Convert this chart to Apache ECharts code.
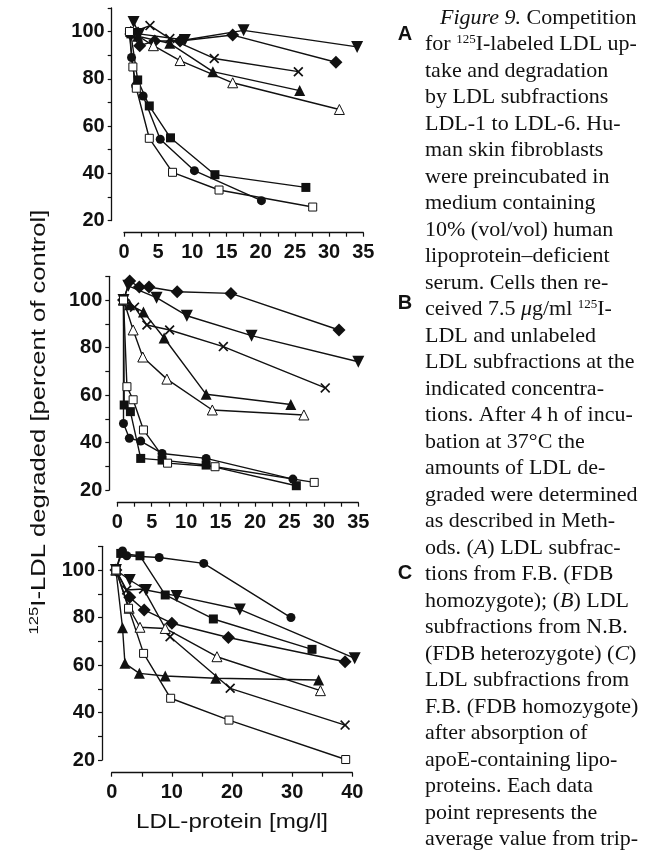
<!DOCTYPE html>
<html>
<head>
<meta charset="utf-8">
<script src="https://cdn.jsdelivr.net/npm/echarts@6/dist/echarts.min.js"></script>
<style>
html, body { margin: 0; padding: 0; background: #fff; }
#main { width: 661px; height: 851px; }
</style>
</head>
<body>
<div id="main"></div>
<script>
// ---- data: [LDL-protein mg/l, % of control] ----
// panel A
var aDown     = [[1.4,104],[2.2,99],[8.9,96.4],[17.5,100.5],[34.1,93.5]];
var aDiamond  = [[1,99],[2.3,94],[4.5,96],[8.2,96],[15.9,98.5],[31,87]];
var aCross    = [[1.5,100],[3.8,102.5],[6.7,97],[13.2,88.6],[25.5,83]];
var aTri      = [[1,100],[2,98],[6.7,95],[13,83],[25.7,75]];
var aTriOpen  = [[1,100],[4.3,94],[8.2,87.7],[15.9,78.3],[31.5,67]];
var aSquare   = [[1,99],[2,79.5],[3.7,68.5],[6.8,55],[13.3,39.4],[26.6,34]];
var aCircle   = [[0.8,100],[1.1,89],[1.7,77],[2.8,72.7],[5.3,54.4],[10.3,41.1],[20.1,28.4]];
var aSqOpen   = [[0.8,100],[1.3,85],[1.8,76],[3.7,54.8],[7.1,40.4],[13.9,32.9],[27.6,25.7]];
// panel B
var bDown     = [[0.9,100],[1.6,106],[5.7,101],[10.1,93.4],[19.5,85],[35,74]];
var bDiamond  = [[0.9,100],[1.8,108],[3.2,105.5],[4.6,105.5],[8.7,103.5],[16.5,102.8],[32.2,87.4]];
var bCross    = [[0.9,100],[2.5,97],[4.3,89.5],[7.6,87.4],[15.4,80.4],[30.2,63]];
var bTri      = [[0.9,100],[1.8,98],[3.8,95],[6.8,84],[12.9,60.3],[25.2,56]];
var bTriOpen  = [[0.9,100],[2.3,87.4],[3.7,76],[7.2,66.7],[13.8,53.7],[27.1,51.6]];
var bSquare   = [[0.9,100],[1,55.8],[1.9,53],[3.4,33.3],[6.5,32.6],[12.9,30.5],[26,21.8]];
var bCircle   = [[0.9,100],[0.9,48],[1.75,41.8],[3.4,40.6],[6.5,35.4],[12.9,33.3],[25.5,24.6]];
var bSqOpen   = [[0.9,100],[1.4,63.5],[2.3,58],[3.8,45.3],[7.3,31.3],[14.2,29.8],[28.6,23.2]];
// panel C
var cDown     = [[0.7,100],[3,95.8],[5.7,91.6],[10.8,89.1],[21.3,83.4],[40.4,62.8]];
var cDiamond  = [[0.7,100],[3,88.5],[5.4,83.2],[10,77.6],[19.4,71.6],[38.8,61.4]];
var cCross    = [[0.7,100],[2.5,91.6],[5.3,92],[9.7,71.9],[19.7,50.2],[38.8,34.7]];
var cTri      = [[0.7,100],[1.8,75.7],[2.2,60.7],[4.6,56.5],[8.9,55.4],[17.3,54.4],[34.4,53.7]];
var cTriOpen  = [[0.7,100],[2.9,83.9],[4.7,75.9],[8.9,75.4],[17.5,63.5],[34.7,49.2]];
var cSquare   = [[0.7,100],[1.5,107],[4.7,106],[8.9,89.5],[16.9,79.4],[33.3,66.6]];
var cCircle   = [[0.7,100],[1.8,108],[2.5,106],[7.9,105.3],[15.3,102.8],[29.8,80]];
var cSqOpen   = [[0.7,100],[2.8,83.9],[5.3,64.9],[9.8,46],[19.5,36.8],[38.9,20.2]];

var xMaxes = [35, 35, 40];
var xSteps = [5, 5, 10];
var yTicks = [20, 40, 60, 80, 100];
var panelLetters = ['A', 'B', 'C'];

var captionLines = [
  '{it|Figure 9.} Competition',
  'for {sup|125}I-labeled LDL up-',
  'take and degradation',
  'by LDL subfractions',
  'LDL-1 to LDL-6. Hu-',
  'man skin fibroblasts',
  'were preincubated in',
  'medium containing',
  '10% (vol/vol) human',
  'lipoprotein\u2013deficient',
  'serum. Cells then re-',
  'ceived 7.5 {it|\u03bc}g/ml {sup|125}I-',
  'LDL and unlabeled',
  'LDL subfractions at the',
  'indicated concentra-',
  'tions. After 4 h of incu-',
  'bation at 37\u00b0C the',
  'amounts of LDL de-',
  'graded were determined',
  'as described in Meth-',
  'ods. ({it|A}) LDL subfrac-',
  'tions from F.B. (FDB',
  'homozygote); ({it|B}) LDL',
  'subfractions from N.B.',
  '(FDB heterozygote) ({it|C})',
  'LDL subfractions from',
  'F.B. (FDB homozygote)',
  'after absorption of',
  'apoE-containing lipo-',
  'proteins. Each data',
  'point represents the',
  'average value from trip-'
];

// ---- styling ----
var INK = '#111';
var crossPath = 'path://M0,1.2L1.2,0L5,3.8L8.8,0L10,1.2L6.2,5L10,8.8L8.8,10L5,6.2L1.2,10L0,8.8L3.8,5Z';
var markers = {
  down:    { symbol: 'triangle', symbolSize: 12, symbolRotate: 180 },
  diamond: { symbol: 'diamond', symbolSize: 13 },
  cross:   { symbol: crossPath, symbolSize: 10 },
  tri:     { symbol: 'triangle', symbolSize: 11 },
  triOpen: { symbol: 'triangle', symbolSize: 10, open: true },
  square:  { symbol: 'rect', symbolSize: 9 },
  circle:  { symbol: 'circle', symbolSize: 9 },
  sqOpen:  { symbol: 'rect', symbolSize: 8, open: true }
};
var panels = [
  { down: aDown, diamond: aDiamond, cross: aCross, tri: aTri, triOpen: aTriOpen, square: aSquare, circle: aCircle, sqOpen: aSqOpen },
  { down: bDown, diamond: bDiamond, cross: bCross, tri: bTri, triOpen: bTriOpen, square: bSquare, circle: bCircle, sqOpen: bSqOpen },
  { down: cDown, diamond: cDiamond, cross: cCross, tri: cTri, triOpen: cTriOpen, square: cSquare, circle: cCircle, sqOpen: cSqOpen }
];
var gridBox = [
  { left: 124,   right: 297.7, top: 7.9,   height: 212.6, yOff: 12.3, xOff: 12.2 },
  { left: 117.3, right: 302.7, top: 276.3, height: 213.7, yOff: 8,    xOff: 12.7 },
  { left: 111.7, right: 308.7, top: 546.3, height: 213.7, yOff: 9.7,  xOff: 12.7 }
];

var tickFont = { fontFamily: 'Liberation Sans', fontWeight: 'bold', fontSize: 20, color: INK };

var grids = [], xAxes = [], yAxes = [], series = [], graphics = [];
gridBox.forEach(function (g, i) {
  grids.push({ left: g.left, right: g.right, top: g.top, height: g.height });
  xAxes.push({
    type: 'value', gridIndex: i, min: 0, max: xMaxes[i], interval: xSteps[i], offset: g.xOff,
    axisLine: { show: true, onZero: false, lineStyle: { color: INK, width: 1.3 } },
    axisTick: { show: true, length: 4, lineStyle: { color: INK, width: 1.2 } },
    minorTick: { show: true, splitNumber: 2, length: 4, lineStyle: { color: INK, width: 1.2 } },
    splitLine: { show: false },
    axisLabel: Object.assign({ margin: 10 }, tickFont)
  });
  yAxes.push({
    type: 'value', gridIndex: i, min: yTicks[0], max: 110, interval: 20, offset: g.yOff,
    axisLine: { show: true, onZero: false, lineStyle: { color: INK, width: 1.3 } },
    axisTick: { show: true, length: 4, lineStyle: { color: INK, width: 1.2 } },
    minorTick: { show: true, splitNumber: 2, length: 4, lineStyle: { color: INK, width: 1.2 } },
    splitLine: { show: false },
    axisLabel: Object.assign({ margin: 7, showMaxLabel: false }, tickFont)
  });
  Object.keys(markers).forEach(function (k) {
    var m = markers[k];
    series.push({
      type: 'line', xAxisIndex: i, yAxisIndex: i, clip: false,
      data: panels[i][k],
      symbol: m.symbol, symbolSize: m.symbolSize, symbolRotate: m.symbolRotate || 0,
      showSymbol: true, showAllSymbol: true,
      lineStyle: { color: INK, width: 1.4 },
      itemStyle: m.open
        ? { color: '#fff', borderColor: INK, borderWidth: 1 }
        : { color: INK, borderWidth: 0 },
      emphasis: { disabled: true }
    });
  });
  graphics.push({
    type: 'text', x: 405, y: g.top + 27, z: 10,
    style: { text: panelLetters[i], fontFamily: 'Liberation Sans', fontWeight: 'bold', fontSize: 20,
             fill: INK, align: 'center', verticalAlign: 'middle' }
  });
});

// axis titles
graphics.push({
  type: 'text', x: 232, y: 822, scaleX: 1.15,
  style: { text: 'LDL-protein [mg/l]', fontFamily: 'Liberation Sans', fontSize: 21, fill: INK,
           align: 'center', verticalAlign: 'middle' }
});
graphics.push({
  type: 'text', x: 39, y: 422, rotation: Math.PI / 2, scaleX: 1.28,
  style: {
    text: '{sup|125}I-LDL degraded [percent of control]',
    fontFamily: 'Liberation Sans', fontSize: 20, fill: INK, align: 'center', verticalAlign: 'middle',
    rich: { sup: { fontFamily: 'Liberation Sans', fontSize: 13, fill: INK, padding: [0, 0, 10, 0] } }
  }
});

// caption
var capRich = {
  it:  { fontFamily: 'Liberation Serif', fontSize: 22, fontStyle: 'italic', fill: INK },
  sup: { fontFamily: 'Liberation Serif', fontSize: 13, fill: INK, padding: [0, 0, 10, 0] }
};
captionLines.forEach(function (line, j) {
  graphics.push({
    type: 'text', x: j === 0 ? 440 : 425, y: 18 + j * 26.5,
    style: { text: line, fontFamily: 'Liberation Serif', fontSize: 22, fill: INK,
             align: 'left', verticalAlign: 'middle', rich: capRich }
  });
});

var chart = echarts.init(document.getElementById('main'), null, { renderer: 'canvas' });
chart.setOption({
  backgroundColor: '#fff',
  animation: false,
  grid: grids,
  xAxis: xAxes,
  yAxis: yAxes,
  series: series,
  graphic: graphics
});
</script>
</body>
</html>
